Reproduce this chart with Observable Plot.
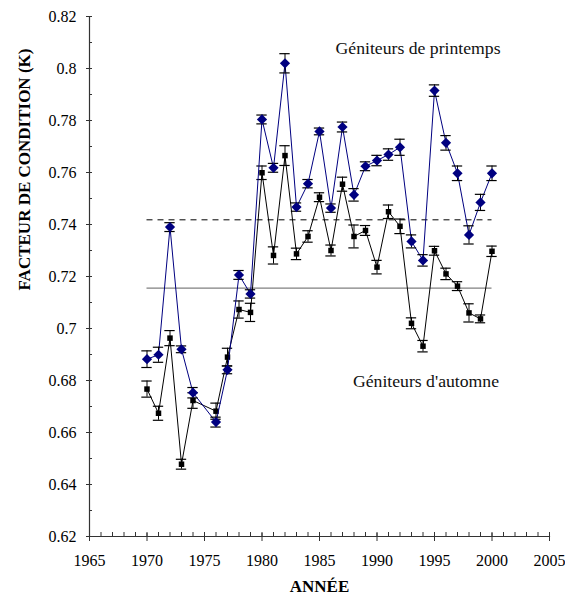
<!DOCTYPE html>
<html><head><meta charset="utf-8">
<script src="https://cdn.jsdelivr.net/npm/d3@7"></script>
<script src="https://cdn.jsdelivr.net/npm/@observablehq/plot@0.6"></script>
<style>
body{margin:0;background:#fff}
#chart svg, #chart svg text { font-family: "Liberation Serif", "Times New Roman", Times, serif !important; }
</style>
</head><body><div id="chart"></div>
<script>
const years = [1970,1971,1972,1973,1974,1976,1977,1978,1979,1980,1981,1982,1983,1984,1985,1986,1987,1988,1989,1990,1991,1992,1993,1994,1995,1996,1997,1998,1999,2000];
const spring = [0.6882,0.6899,0.7390,0.6920,0.6753,0.6640,0.6841,0.7206,0.7133,0.7804,0.7618,0.8020,0.7467,0.7557,0.7758,0.7463,0.7775,0.7514,0.7624,0.7646,0.7669,0.7697,0.7335,0.7262,0.7915,0.7714,0.7597,0.7360,0.7485,0.7597];
const springErr = [0.0032,0.0029,0.0017,0.0013,0.0020,0.0019,0.0015,0.0017,0.0016,0.0017,0.0017,0.0037,0.0016,0.0016,0.0013,0.0016,0.0019,0.0024,0.0017,0.0020,0.0022,0.0031,0.0025,0.0022,0.0022,0.0028,0.0028,0.0035,0.0031,0.0028];
const autumn = [0.6767,0.6674,0.6963,0.6478,0.6723,0.6682,0.6890,0.7073,0.7062,0.7599,0.7281,0.7665,0.7287,0.7354,0.7505,0.7300,0.7555,0.7354,0.7377,0.7236,0.7449,0.7393,0.7020,0.6932,0.7299,0.7210,0.7163,0.7060,0.7037,0.7297];
const autumnErr = [0.0031,0.0027,0.0029,0.0019,0.0030,0.0031,0.0034,0.0033,0.0035,0.0026,0.0033,0.0038,0.0022,0.0022,0.0017,0.0021,0.0027,0.0044,0.0019,0.0026,0.0026,0.0028,0.0021,0.0022,0.0017,0.0022,0.0017,0.0035,0.0015,0.0020];
const meanSpring = 0.7418;
const meanAutumn = 0.7155;
const meanSpan = [1970, 2000];
const xTickLabels = [1965,1970,1975,1980,1985,1990,1995,2000,2005];
const yTickLabels = [0.62,0.64,0.66,0.68,0.70,0.72,0.74,0.76,0.78,0.80,0.82];
const seriesLabels = [
  {text: "Géniteurs de printemps", year: 1993.57, v: 0.8077},
  {text: "Géniteurs d'automne", year: 1994.26, v: 0.6796}
];
const yTitle = "FACTEUR DE CONDITION (K)";
const xTitle = "ANNÉE";
const serif = "Liberation Serif";

const springRows = years.map((year, i) => ({year, v: spring[i], e: springErr[i]}));
const autumnRows = years.map((year, i) => ({year, v: autumn[i], e: autumnErr[i]}));
const xMinor = d3.range(1965, 2006, 1);
const yMinor = d3.range(62, 83, 1).map(d => d / 100);

function errorMarks(rows) {
  return [
    Plot.ruleX(rows, {x: "year", y1: d => d.v - d.e, y2: d => d.v + d.e, stroke: "black", strokeWidth: 1}),
    Plot.ruleY(rows, {y: d => d.v + d.e, x1: d => d.year - 0.45, x2: d => d.year + 0.45, stroke: "black", strokeWidth: 1.2}),
    Plot.ruleY(rows, {y: d => d.v - d.e, x1: d => d.year - 0.45, x2: d => d.year + 0.45, stroke: "black", strokeWidth: 1.2})
  ];
}

const axisColor = "#333";
const chart = Plot.plot({
  width: 565, height: 598,
  marginLeft: 89, marginRight: 16, marginTop: 16, marginBottom: 62,
  style: {fontFamily: serif, fontSize: "16px", color: "black", background: "white"},
  x: {domain: [1965, 2005]},
  y: {domain: [0.62, 0.82]},
  marks: [
    Plot.ruleY([meanSpring], {x1: meanSpan[0], x2: meanSpan[1], stroke: "black", strokeDasharray: "6,5", strokeWidth: 1}),
    Plot.ruleY([meanAutumn], {x1: meanSpan[0], x2: meanSpan[1], stroke: "#808080", strokeWidth: 1.2}),
    Plot.line(autumnRows, {x: "year", y: "v", stroke: "black", strokeWidth: 1}),
    ...errorMarks(autumnRows),
    Plot.dot(autumnRows, {x: "year", y: "v", symbol: "square", r: 3.1, fill: "black", stroke: "none"}),
    Plot.line(springRows, {x: "year", y: "v", stroke: "#000080", strokeWidth: 1}),
    ...errorMarks(springRows),
    Plot.dot(springRows, {x: "year", y: "v", symbol: "diamond2", r: 4.6, fill: "#000080", stroke: "none"}),
    Plot.text(seriesLabels, {x: "year", y: "v", text: "text", fontFamily: serif, fontSize: 17.7, fill: "#111"}),
    Plot.axisX({ticks: xTickLabels, tickFormat: d => String(d), tickSize: 0, tickPadding: 18, fontFamily: serif, fontSize: 16, label: null}),
    Plot.axisX({ticks: xMinor, tickFormat: () => "", tickSize: 4, dy: -4, stroke: axisColor, label: null}),
    Plot.axisX({ticks: xTickLabels, tickFormat: () => "", tickSize: 8, dy: -3, stroke: axisColor, label: null}),
    Plot.axisY({ticks: yTickLabels, tickFormat: d => String(+d.toFixed(2)), tickSize: 0, tickPadding: 13, fontFamily: serif, fontSize: 16, label: null}),
    Plot.axisY({ticks: yMinor, tickFormat: () => "", tickSize: 3, dx: 3, stroke: axisColor, label: null}),
    Plot.axisY({ticks: yTickLabels, tickFormat: () => "", tickSize: 6, dx: 3, stroke: axisColor, label: null}),
    Plot.frame({anchor: "left", stroke: axisColor, strokeWidth: 1.2}),
    Plot.frame({anchor: "bottom", stroke: axisColor, strokeWidth: 1.2}),
    Plot.text([yTitle], {frameAnchor: "left", rotate: -90, dx: -65, dy: 14, fontFamily: serif, fontWeight: "bold", fontSize: 17, fill: "black"}),
    Plot.text([xTitle], {frameAnchor: "bottom", dy: 55, fontFamily: serif, fontWeight: "bold", fontSize: 17, fill: "black"})
  ]
});
document.getElementById("chart").appendChild(chart);
</script>
</body></html>
